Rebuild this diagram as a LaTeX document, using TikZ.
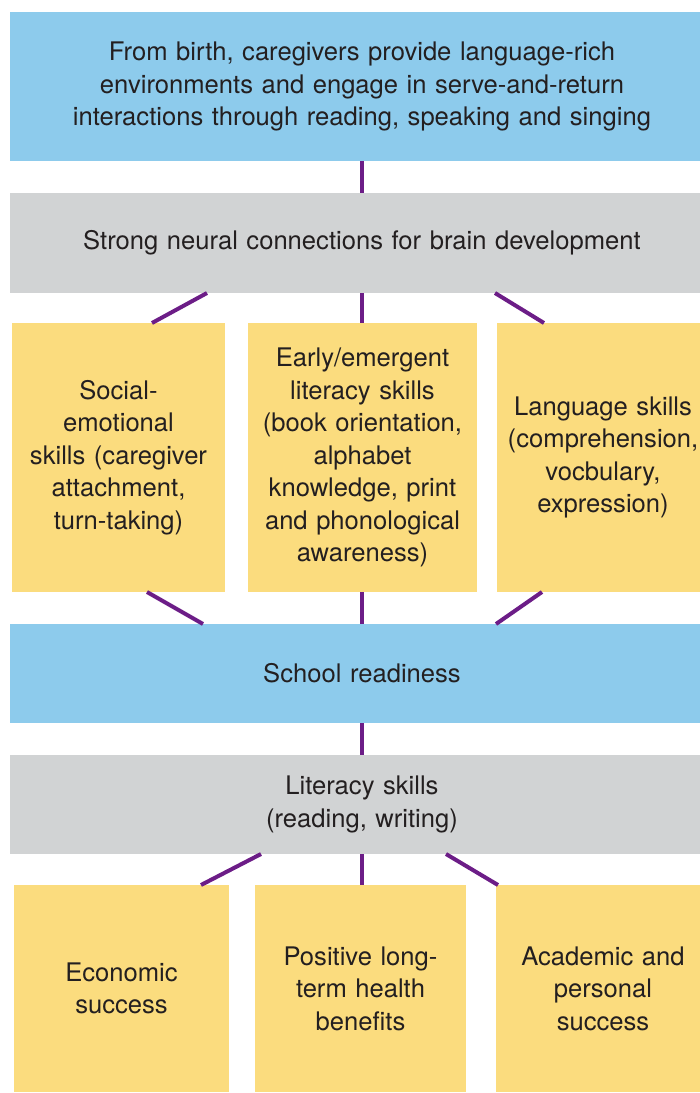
\documentclass[tikz,border=0pt]{standalone}
\usepackage{fontspec}
\setmainfont{TeX Gyre Heros}
\usepackage{tikz}
\usetikzlibrary{positioning,calc}
\usepackage{xcolor}
\definecolor{skyblue}{HTML}{8DCBEC}
\definecolor{lightgrey}{HTML}{D1D3D4}
\definecolor{softyellow}{HTML}{FBDC7E}
\definecolor{linkpurple}{HTML}{6C1D87}
\definecolor{textgrey}{HTML}{231F20}

\begin{document}
\begin{tikzpicture}[line width=2pt,text=textgrey,
    font=\fontsize{12.8}{16.25}\selectfont,
    box node/.style={inner sep=0pt,outer sep=0pt,align=center},
    blue node/.style={box node,fill=skyblue,text width=352pt},
    grey node/.style={box node,fill=lightgrey,text width=352pt},
    yellow node/.style={box node,fill=softyellow}]
    \useasboundingbox (0,0) rectangle (350pt,-546.5pt);
    \clip (0,0) rectangle (350pt,-546.5pt);
    % nodes
      \node[blue node,minimum height=74.5pt] (0) at (181pt,-43.25pt)
        {From birth, caregivers provide language-rich\\environments and engage in serve-and-return\\interactions through reading, speaking and singing};
      \node[grey node,minimum height=50pt] (1) [below = 16pt of 0]
        {Strong neural connections for brain development};
      \node[yellow node,text width=106.5pt,minimum height=134.5pt] (2) [below right = 15pt and 1pt of 1.south west]
        {Social-\\emotional\\skills (caregiver\\attachment,\\turn-taking)};
      \node[yellow node,text width=114.5pt,minimum height=134.5pt] (3) [right = 11.5pt of 2]
        {Early/emergent\\literacy skills\\(book orientation,\\alphabet\\knowledge, print\\and phonological\\awareness)};
      \node[yellow node,text width=106pt,minimum height=134.5pt] (4) [right = 10pt of 3]
        {Language skills\\(comprehension,\\vocbulary,\\expression)};
      \node[blue node,minimum height=49.5pt] (5) [below = 16pt of 1 |- 2.south]
        {School readiness};
      \node[grey node,minimum height=49.5pt] (6) [below = 16pt of 5]
        {Literacy skills\\(reading, writing)};
      \node[yellow node,text width=107.5pt,minimum height=103.5pt] (7) [below right = 15.5pt and 2pt of 6.south west]
        {Economic\\success};
      \node[yellow node,text width=105.5pt,minimum height=103.5pt] (8) [right = 13pt of 7]
        {Positive long-\\term health\\benefits};
      \node[yellow node,text width=107pt,minimum height=103.5pt] (9) [right = 15pt of 8]
        {Academic and\\personal\\success};
      %edges
      \path[draw=linkpurple]
        (0.south) edge (1.north)
        ([xshift=-77.5pt]1.south) edge ([xshift=16.75pt]2.north)
        (1.south) edge ([xshift=-0.25pt]3.north)
        ([xshift=66.5pt]1.south) edge ([xshift=-29.5pt]4.north)
        ([xshift=14.25pt]2.south) edge ([xshift=-79.5pt]5.north)
        ([xshift=-0.25pt]3.south) edge (5.north)
        ([xshift=-30.5pt]4.south) edge ([xshift=67pt]5.north)
        (5.south) edge (6.north)
        ([xshift=-50.5pt]6.south) edge ([xshift=39.75pt]7.north)
        (6.south) edge ([xshift=0.75pt]8.north)
        ([xshift=42pt]6.south) edge ([xshift=-52.5pt]9.north);
    \end{tikzpicture}
\end{document}
